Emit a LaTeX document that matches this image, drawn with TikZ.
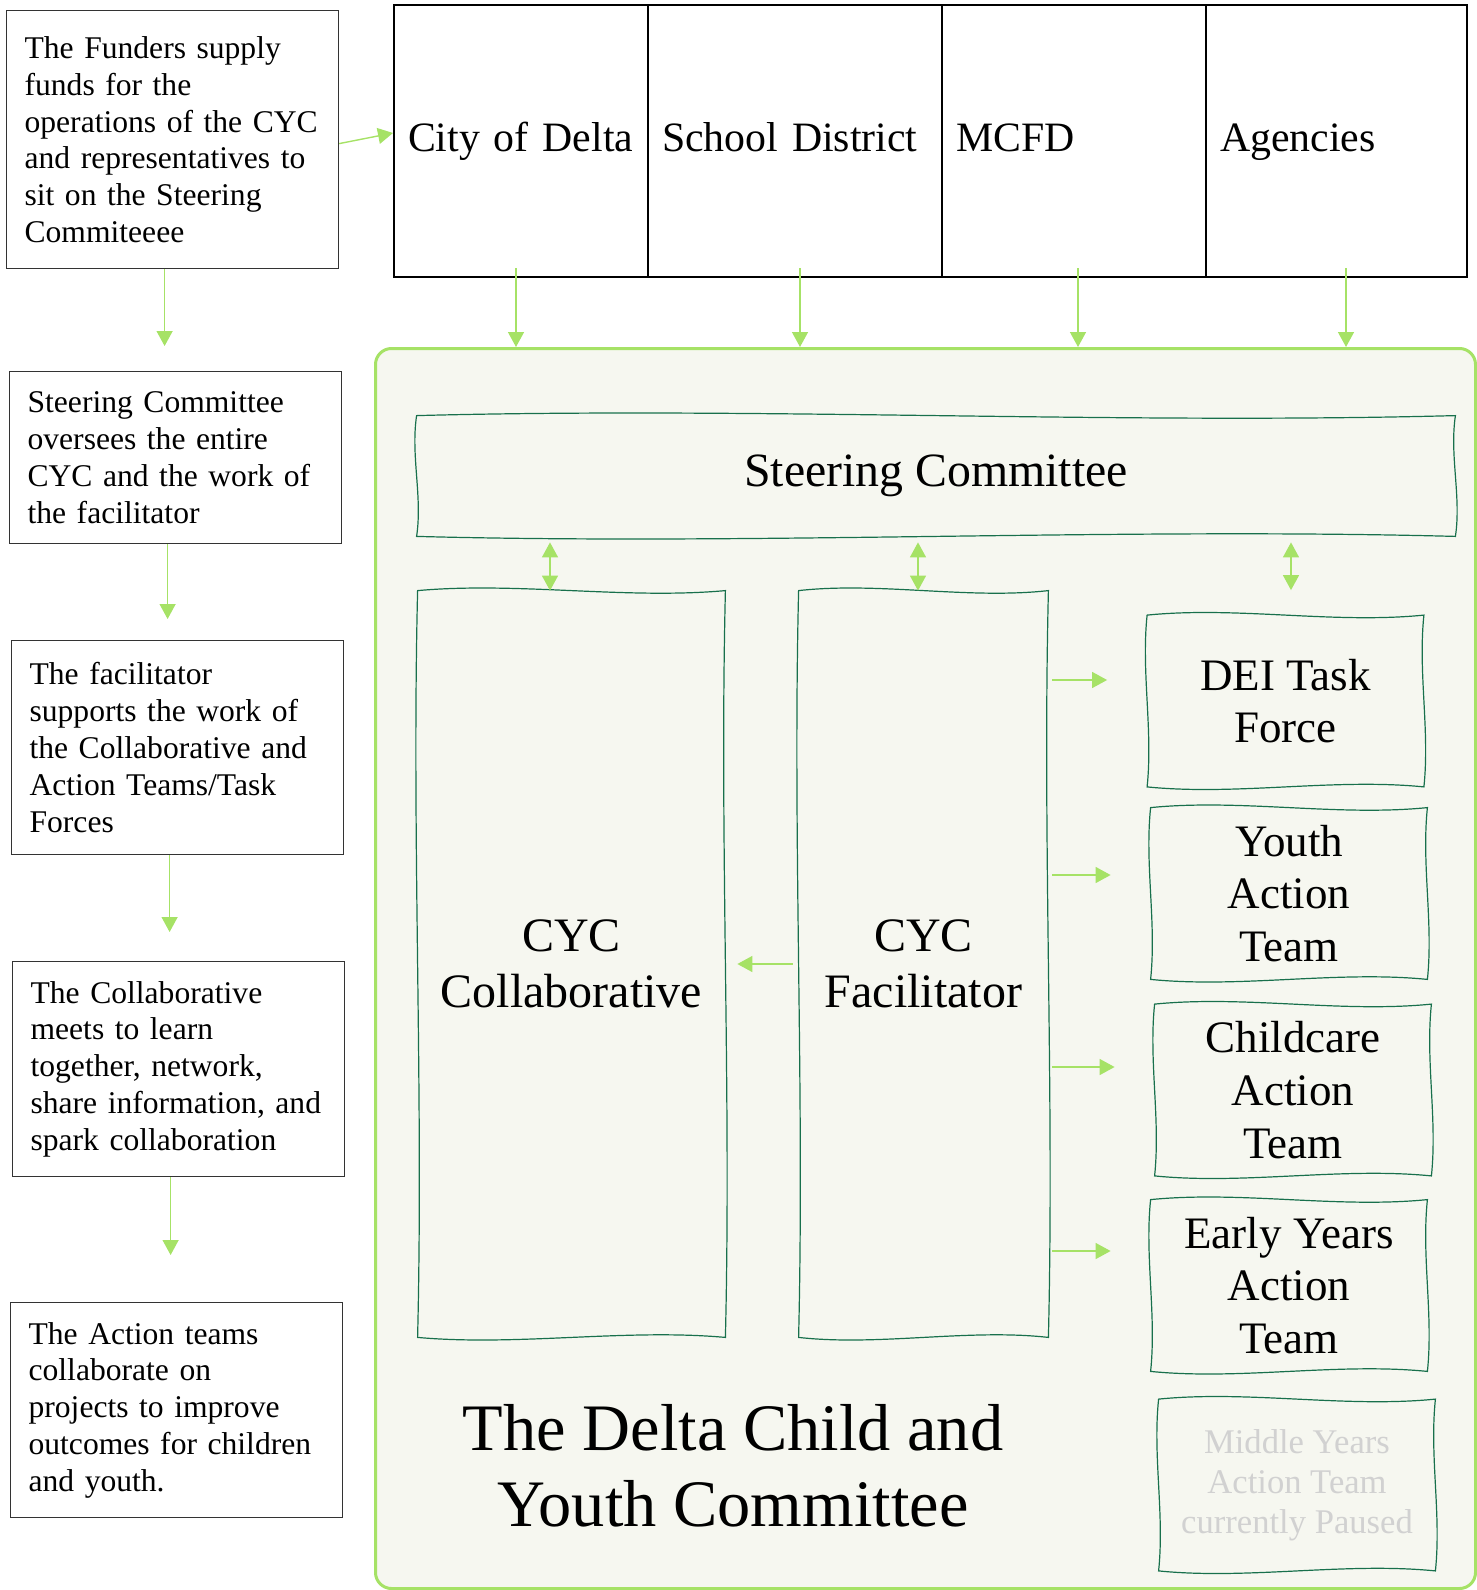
\documentclass[tikz,border=0pt]{standalone}
\usepackage{fontspec}
\setmainfont{Liberation Serif}
\usetikzlibrary{arrows.meta}
\pgfdeclarelayer{bg}
\pgfsetlayers{bg,main}
\definecolor{ltgreen}{RGB}{166,226,102}
\definecolor{dkgreen}{RGB}{24,112,76}
\definecolor{paper}{RGB}{246,247,240}

\begin{document}
\begin{tikzpicture}
  [x=0.5pt,y=-0.5pt,
   note/.style={draw=black!80,line width=0.6pt,anchor=north west,align=left,
     text width=148pt,inner xsep=9pt,font=\fontsize{15.8}{18.4}\selectfont},
   cell/.style={draw,line width=1pt,anchor=north west,align=left,
     minimum height=136pt,inner xsep=7pt,text height=1.3em,text depth=0.25em,
     font=\fontsize{20.9}{25}\selectfont},
   box/.style={align=center},
   team/.style={box,minimum width=138pt,minimum height=85.5pt,
     font=\fontsize{22.5}{26.4}\selectfont},
   wob/.style={draw=dkgreen,line width=0.6pt},
   arr/.style={draw=ltgreen,line width=0.7pt,>={Triangle[length=7.5pt,width=8pt]},->},
   darr/.style={arr,<->}]
  \useasboundingbox (0,0) rectangle (1477,1590);

  \node[note,minimum height=129pt] (n1) at (6,10) {The Funders supply\\funds for the\\operations of the CYC\\and representatives to\\sit on the Steering\\Commiteeee};
  \node[note,minimum height=86pt] (n2) at (9,371) {Steering Committee\\oversees the entire\\CYC and the work of\\the facilitator};
  \node[note,minimum height=107pt] (n3) at (11,640) {The facilitator\\supports the work of\\the Collaborative and\\Action Teams/Task\\Forces};
  \node[note,minimum height=107.5pt] (n4) at (12,961) {The Collaborative\\meets to learn\\together, network,\\share information, and\\spark collaboration};
  \node[note,minimum height=107.5pt] (n5) at (10,1302) {The Action teams\\collaborate on\\projects to improve\\outcomes for children\\and youth.};

  \node[cell,text width=113pt] (c1) at (393,4) {\mbox{City of Delta}};
  \node[cell,text width=133pt] (c2) at (647,4) {\mbox{School District}};
  \node[cell,text width=118pt] (c3) at (941,4) {MCFD};
  \node[cell,text width=116.5pt] (c4) at (1205,4) {Agencies};

\begin{pgfonlayer}{bg}
  \node[draw=ltgreen,line width=1.5pt,fill=paper,rounded corners=8pt,anchor=north west,
    minimum width=550pt,minimum height=620pt] (cyc) at (374,347) {};
\end{pgfonlayer}

  \node[box,minimum width=519pt,minimum height=60pt,font=\fontsize{23.9}{28}\selectfont]
    (sc) at (936,476) {Steering Committee};
  \node[box,minimum width=153.5pt,minimum height=373pt,font=\fontsize{24}{28}\selectfont]
    (cc) at (571.5,964) {CYC\\Collaborative};
  \node[box,minimum width=124.5pt,minimum height=373pt,font=\fontsize{24}{28}\selectfont]
    (cf) at (923.5,964) {CYC\\Facilitator};
  \node[team] (t1) at (1285.5,701) {DEI Task\\Force};
  \node[team] (t2) at (1289,893.5) {Youth\\Action\\Team};
  \node[team] (t3) at (1293,1090) {Childcare\\Action\\Team};
  \node[team] (t4) at (1289,1285.5) {Early Years\\Action\\Team};
  \node[team,text=black!18,font=\fontsize{17.3}{20}\selectfont] (t5) at (1297,1485)
    {Middle Years\\Action Team\\currently Paused};

  \node[font=\fontsize{33.2}{38}\selectfont,align=center] (l1) at (733,1466)
    {The Delta Child and\\Youth Committee};

% hand drawn outlines
\foreach \b/\w/\h in {sc/340/40,cc/100/250,cf/80/250,t1/90/57,t2/90/57,t3/90/57,t4/90/57,t5/90/57}
  \draw[wob] (\b.north west) .. controls +(\w,-9) and +(-\w,9) .. (\b.north east)
    .. controls +(-6,\h) and +(6,-\h) .. (\b.south east)
    .. controls +(-\w,-9) and +(\w,9) .. (\b.south west)
    .. controls +(6,-\h) and +(-6,\h) .. (\b.north west) -- cycle;

\draw[arr] ([yshift=-2pt]n1.east) -- ([yshift=4pt]c1.west);
\foreach \a/\b/\s in {n1/n2/12.5,n2/n3/10.5,n3/n4/14.5,n4/n5/23.5}
  \draw[arr] ([xshift=-4pt]\a.south) -- ([xshift=-4pt,yshift=\s pt]\a.south |- \b.north);
\foreach \c/\s in {c1/-2.5,c2/2.5,c3/2,c4/4.75}
  \draw[arr] ([xshift=\s pt,yshift=5pt]\c.south) -- ([xshift=\s pt]\c.south |- cyc.north);

\draw[darr] ([xshift=-10.75pt,yshift=-3pt]sc.south -| cc.north) -- ([xshift=-10.75pt]cc.north);
\draw[darr] ([xshift=-2.75pt,yshift=-3pt]sc.south -| cf.north) -- ([xshift=-2.75pt]cf.north);
\draw[darr] ([xshift=2.75pt,yshift=-3pt]sc.south -| t1.north) -- ([xshift=2.75pt,yshift=12.5pt]t1.north);

\draw[arr] ([xshift=-3pt]cf.west) -- ([xshift=6pt]cc.east);
\foreach \t/\s in {t1/10.5,t2/9.25,t3/11.5,t4/17.25}
  \draw[arr] ([xshift=2pt,yshift=\s pt]cf.east |- \t.west) -- ([xshift=-20pt,yshift=\s pt]\t.west);

\end{tikzpicture}
\end{document}
